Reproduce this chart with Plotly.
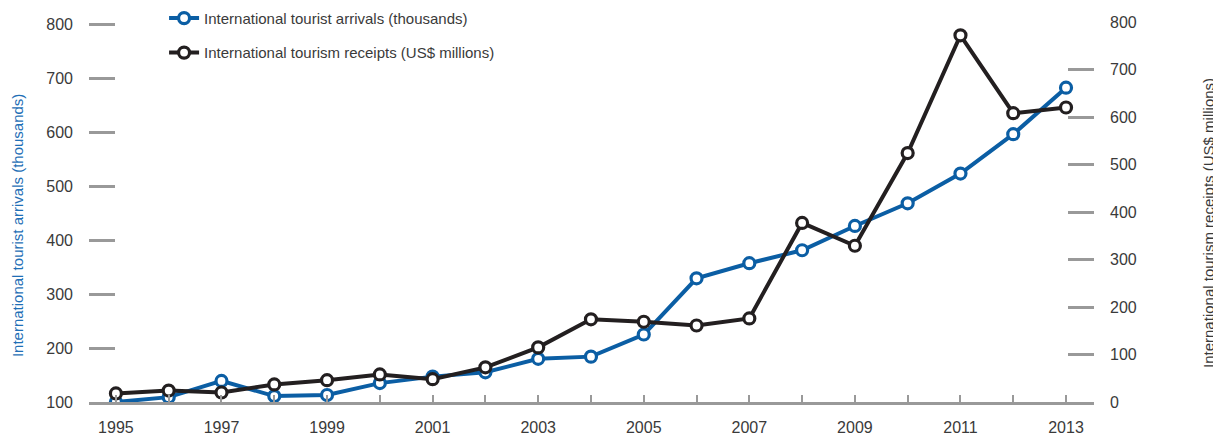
import plotly.graph_objects as go

years = list(range(1995, 2014))
arrivals = [100, 109, 139, 111, 113, 135, 147, 155, 180, 184, 225, 329, 357, 381, 426, 468, 523, 596, 682]
receipts = [18, 24, 20, 37, 46, 58, 48, 73, 115, 174, 169, 161, 176, 377, 329, 524, 772, 608, 620]

left_ticks = [100, 200, 300, 400, 500, 600, 700, 800]
right_ticks = [0, 100, 200, 300, 400, 500, 600, 700, 800]

BLUE = "#0b5ea4"
BLACK = "#231f20"
GREY = "#999999"
TEXT = "#3a3a3a"
FONT = "Liberation Sans Narrow, Arial Narrow, Liberation Sans, sans-serif"

fig = go.Figure()

# receipts first so the blue line sits on top
fig.add_trace(go.Scatter(
    x=years, y=receipts,
    name="International tourism receipts (US$ millions)",
    legendgroup="b", legendrank=2,
    mode="lines+markers",
    line=dict(color=BLACK, width=4),
    marker=dict(size=11, color="white", line=dict(color=BLACK, width=3.2)),
    yaxis="y2",
))

fig.add_trace(go.Scatter(
    x=years, y=arrivals,
    name="International tourist arrivals (thousands)",
    legendgroup="a", legendrank=1,
    mode="lines+markers",
    line=dict(color=BLUE, width=4),
    marker=dict(size=11, color="white", line=dict(color=BLUE, width=3.2)),
    yaxis="y",
))

# page body adds an 8px offset, margins compensate for it
fig.update_layout(
    width=1221,
    height=436,
    margin=dict(l=81, r=135, t=14, b=42, autoexpand=False),
    plot_bgcolor="white",
    paper_bgcolor="white",
    font=dict(family=FONT, size=16, color=TEXT),
    legend=dict(
        x=0.0747, y=1.053, xanchor="left", yanchor="top",
        traceorder="grouped",
        bgcolor="rgba(0,0,0,0)",
        font=dict(size=15, color=TEXT),
        tracegroupgap=12,
    ),
    xaxis=dict(
        range=[1994.49, 2013.53],
        tick0=1995, dtick=2,
        ticks="inside", ticklen=7, tickwidth=2, tickcolor=GREY,
        minor=dict(dtick=1, ticks="inside", ticklen=7, tickwidth=2, tickcolor=GREY),
        showline=True, linecolor=GREY, linewidth=3,
        showgrid=False, zeroline=False,
        ticklabelstandoff=9,
        automargin=False,
    ),
    yaxis=dict(
        range=[100, 803.7],
        tickvals=left_ticks,
        ticks="inside", ticklen=26, tickwidth=3, tickcolor=GREY,
        showline=False, showgrid=False, zeroline=False,
        ticklabelstandoff=15,
        automargin=False,
    ),
    yaxis2=dict(
        range=[0, 800],
        tickvals=right_ticks,
        overlaying="y", side="right",
        ticks="inside", ticklen=26, tickwidth=3, tickcolor=GREY,
        showline=False, showgrid=False, zeroline=False,
        ticklabelstandoff=15,
        automargin=False,
    ),
    annotations=[
        dict(text="International tourist arrivals (thousands)",
             xref="paper", yref="paper", x=-0.0716, y=0.463,
             xanchor="center", yanchor="middle",
             textangle=-90, showarrow=False,
             font=dict(size=15, color="#1f6fb6")),
        dict(text="International tourism receipts (US$ millions)",
             xref="paper", yref="paper", x=1.1134, y=0.471,
             xanchor="center", yanchor="middle",
             textangle=-90, showarrow=False,
             font=dict(size=15, color=TEXT)),
    ],
)

fig.write_html("out.html")
